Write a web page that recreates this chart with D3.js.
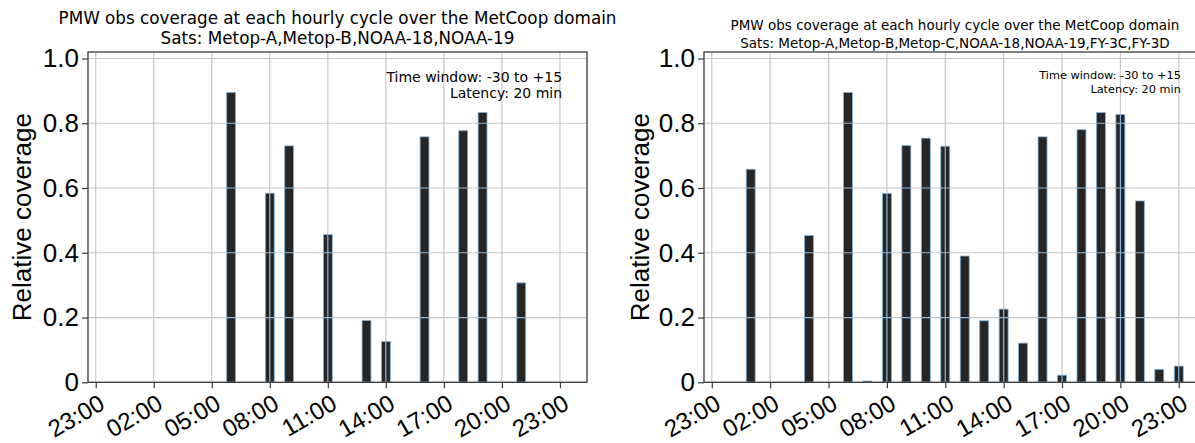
<!DOCTYPE html>
<html>
<head>
<meta charset="utf-8">
<script src="https://cdn.jsdelivr.net/npm/d3@7/dist/d3.min.js"></script>
<style>
  html, body { margin: 0; padding: 0; background: #fff; }
  svg { display: block; }
</style>
</head>
<body>
<svg id="fig" width="1195" height="443"></svg>
<script>
// Hourly analysis cycles (hour of day, 00..23)
const cycles = ["00:00","01:00","02:00","03:00","04:00","05:00","06:00","07:00",
                "08:00","09:00","10:00","11:00","12:00","13:00","14:00","15:00",
                "16:00","17:00","18:00","19:00","20:00","21:00","22:00","23:00"];

// Relative PMW coverage per cycle, 4-satellite constellation
const coverageA = [0, 0, 0, 0, 0, 0, 0.895, 0, 0.584, 0.730, 0, 0.456,
                   0, 0.191, 0.126, 0, 0.758, 0, 0.777, 0.833, 0, 0.307, 0, 0];

// Relative PMW coverage per cycle, 7-satellite constellation
const coverageB = [0, 0.658, 0, 0, 0.453, 0, 0.895, 0.004, 0.583, 0.731, 0.754, 0.729,
                   0.390, 0.190, 0.226, 0.121, 0.758, 0.022, 0.780, 0.833, 0.827, 0.560, 0.040, 0.050];

// X tick positions (hour offsets; -1 is 23:00 of the previous day) and their labels
const xTickHours  = [-1, 2, 5, 8, 11, 14, 17, 20, 23];
const xTickLabels = ["23:00","02:00","05:00","08:00","11:00","14:00","17:00","20:00","23:00"];

// Y ticks and labels
const yTickValues = [0, 0.2, 0.4, 0.6, 0.8, 1.0];
const yTickLabels = ["0", "0.2", "0.4", "0.6", "0.8", "1.0"];

const titleLine1 = "PMW obs coverage at each hourly cycle over the MetCoop domain";
const satsA = "Sats: Metop-A,Metop-B,NOAA-18,NOAA-19";
const satsB = "Sats: Metop-A,Metop-B,Metop-C,NOAA-18,NOAA-19,FY-3C,FY-3D";
const noteLines = ["Time window: -30 to +15", "Latency: 20 min"];
const yLabel = "Relative coverage";

const svg = d3.select("#fig");

const panels = [
  { values: coverageA, sats: satsA, left: 88,  right: 587,  titleSize: 16.8, title1Y: 24, title2Y: 44,
    noteSize: 14, yLabelX: 31 },
  { values: coverageB, sats: satsB, left: 704, right: 1206, titleSize: 13.5, title1Y: 30, title2Y: 48,
    noteSize: 11.3, yLabelX: 649 }
];

const plotTop = 52, plotBottom = 382.3;
const barWidth = 0.46;          // hours
const gridColor = "#c8c8c8";
const gridOnBar = "#8db9dd";
const spineColor = "#3a3a3a";

panels.forEach((p, pi) => {
  const x = d3.scaleLinear().domain([-1.4, 24.4]).range([p.left, p.right]);
  const y = d3.scaleLinear().domain([0, 1.02]).range([plotBottom, plotTop]);

  const g = svg.append("g");
  const clipId = "plotclip" + pi;
  const barClipId = "barclip" + pi;

  g.append("clipPath").attr("id", clipId)
    .append("rect").attr("x", p.left).attr("y", plotTop)
    .attr("width", p.right - p.left).attr("height", plotBottom - plotTop);

  const bars = cycles.map((c, i) => ({ hour: i, label: c, v: p.values[i] }))
                     .filter(d => d.v > 0);

  // grid, drawn once in gray and once in light blue where it crosses the bars
  const drawGrid = (sel, color) => {
    sel.selectAll("line.gx").data(xTickHours).join("line")
      .attr("class", "gx")
      .attr("x1", d => x(d)).attr("x2", d => x(d))
      .attr("y1", plotTop).attr("y2", plotBottom)
      .attr("stroke", color).attr("stroke-width", 1.2);
    sel.selectAll("line.gy").data(yTickValues).join("line")
      .attr("class", "gy")
      .attr("x1", p.left).attr("x2", p.right)
      .attr("y1", d => y(d)).attr("y2", d => y(d))
      .attr("stroke", color).attr("stroke-width", 1.2);
  };

  const plot = g.append("g").attr("clip-path", `url(#${clipId})`);
  drawGrid(plot.append("g"), gridColor);

  plot.append("g").selectAll("rect").data(bars).join("rect")
    .attr("x", d => x(d.hour - barWidth / 2))
    .attr("width", d => x(d.hour + barWidth / 2) - x(d.hour - barWidth / 2))
    .attr("y", d => y(d.v))
    .attr("height", d => Math.max(y(0) - y(d.v), 1))
    .attr("fill", "#262626")
    .attr("stroke", "#7fb3da")
    .attr("stroke-width", 0.8);

  const barClip = g.append("clipPath").attr("id", barClipId);
  barClip.selectAll("rect").data(bars).join("rect")
    .attr("x", d => x(d.hour - barWidth / 2))
    .attr("width", d => x(d.hour + barWidth / 2) - x(d.hour - barWidth / 2))
    .attr("y", d => y(d.v))
    .attr("height", d => y(0) - y(d.v));
  drawGrid(plot.append("g").attr("clip-path", `url(#${barClipId})`), gridOnBar);

  // spines
  g.append("rect")
    .attr("x", p.left).attr("y", plotTop)
    .attr("width", p.right - p.left).attr("height", plotBottom - plotTop)
    .attr("fill", "none").attr("stroke", spineColor).attr("stroke-width", 1.3);

  // x axis
  const xAxis = d3.axisBottom(x)
    .tickValues(xTickHours)
    .tickFormat((d, i) => xTickLabels[i])
    .tickSize(6).tickPadding(3);
  const gx = g.append("g").attr("transform", `translate(0,${plotBottom})`).call(xAxis);
  gx.select(".domain").remove();
  gx.selectAll(".tick line").attr("stroke", spineColor).attr("stroke-width", 1.2);
  gx.selectAll(".tick text")
    .attr("font-family", "Liberation Sans, Arial, sans-serif")
    .attr("font-size", 24)
    .attr("fill", "#000")
    .attr("text-anchor", "end")
    .attr("dy", "0.72em")
    .attr("transform", "translate(-3,3) rotate(-30)");

  // y axis
  const yAxis = d3.axisLeft(y)
    .tickValues(yTickValues)
    .tickFormat((d, i) => yTickLabels[i])
    .tickSize(6).tickPadding(3);
  const gy = g.append("g").attr("transform", `translate(${p.left},0)`).call(yAxis);
  gy.select(".domain").remove();
  gy.selectAll(".tick line").attr("stroke", spineColor).attr("stroke-width", 1.2);
  gy.selectAll(".tick text")
    .attr("font-family", "Liberation Sans, Arial, sans-serif")
    .attr("font-size", 26)
    .attr("fill", "#000");

  // y label
  g.append("text")
    .attr("transform", `translate(${p.yLabelX},${(plotTop + plotBottom) / 2}) rotate(-90)`)
    .attr("text-anchor", "middle")
    .attr("font-family", "Liberation Sans, Arial, sans-serif")
    .attr("font-size", 26)
    .attr("fill", "#000")
    .text(yLabel);

  // title
  const cx = (p.left + p.right) / 2;
  g.append("text").attr("x", cx).attr("y", p.title1Y)
    .attr("text-anchor", "middle")
    .attr("font-family", "DejaVu Sans, sans-serif")
    .attr("font-size", p.titleSize).attr("fill", "#000")
    .text(titleLine1);
  g.append("text").attr("x", cx).attr("y", p.title2Y)
    .attr("text-anchor", "middle")
    .attr("font-family", "DejaVu Sans, sans-serif")
    .attr("font-size", p.titleSize).attr("fill", "#000")
    .text(p.sats);

  // time window / latency note, upper right inside the axes
  const nx = p.left + 0.95 * (p.right - p.left);
  const ny = plotTop + 0.05 * (plotBottom - plotTop);
  noteLines.forEach((t, i) => {
    g.append("text")
      .attr("x", nx)
      .attr("y", ny + p.noteSize * (0.95 + i * 1.18))
      .attr("text-anchor", "end")
      .attr("font-family", "DejaVu Sans, sans-serif")
      .attr("font-size", p.noteSize).attr("fill", "#000")
      .text(t);
  });
});
</script>
</body>
</html>
